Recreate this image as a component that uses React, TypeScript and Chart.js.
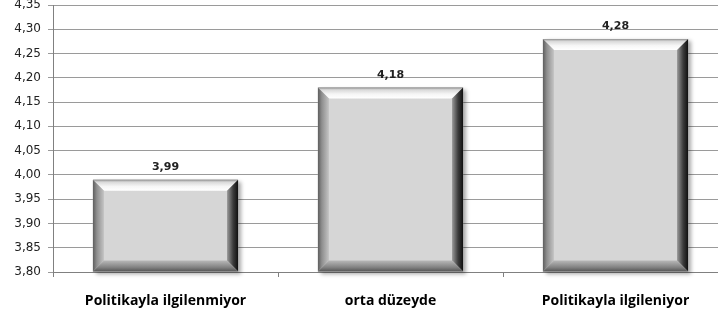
import React, { useEffect, useRef } from "react";
import { Chart, registerables } from "chart.js";

Chart.register(...registerables);

const categories = ["Politikayla ilgilenmiyor", "orta düzeyde", "Politikayla ilgileniyor"];
const values = [3.99, 4.18, 4.28];
const yMin = 3.8;
const yMax = 4.35;
const yStep = 0.05;

const fmt = (v: number) => v.toFixed(2).replace(".", ",");

const bevelPlugin = {
  id: "bevel",
  beforeDatasetsDraw(chart: any) {
    const ctx = chart.ctx;
    const meta = chart.getDatasetMeta(0);
    ctx.save();
    meta.data.forEach((bar: any) => {
      const { x, y, base, width } = bar.getProps(["x", "y", "base", "width"], true);
      const l = x - width / 2;
      ctx.shadowColor = "rgba(0,0,0,0.35)";
      ctx.shadowBlur = 4;
      ctx.shadowOffsetX = 3;
      ctx.shadowOffsetY = 2;
      ctx.fillStyle = "#888";
      ctx.fillRect(l, y, width, base - y);
    });
    ctx.restore();
  },
  afterDatasetsDraw(chart: any) {
    const ctx = chart.ctx;
    const meta = chart.getDatasetMeta(0);
    const b = 11;
    ctx.save();
    meta.data.forEach((bar: any, idx: number) => {
      const { x, y, base, width } = bar.getProps(["x", "y", "base", "width"], true);
      const l = x - width / 2;
      const r = x + width / 2;
      const t = y;
      const bt = base;
      ctx.fillStyle = "#d6d6d6";
      ctx.fillRect(l, t, width, bt - t);
      // top
      let g = ctx.createLinearGradient(0, t, 0, t + b);
      g.addColorStop(0, "#8e8e8e");
      g.addColorStop(0.2, "#d8d8d8");
      g.addColorStop(0.6, "#f6f6f6");
      g.addColorStop(1, "#ffffff");
      ctx.fillStyle = g;
      ctx.beginPath();
      ctx.moveTo(l, t); ctx.lineTo(r, t); ctx.lineTo(r - b, t + b); ctx.lineTo(l + b, t + b); ctx.closePath();
      ctx.fill();
      // left
      g = ctx.createLinearGradient(l, 0, l + b, 0);
      g.addColorStop(0, "#5e5e5e");
      g.addColorStop(0.35, "#8e8e8e");
      g.addColorStop(1, "#c4c4c4");
      ctx.fillStyle = g;
      ctx.beginPath();
      ctx.moveTo(l, t); ctx.lineTo(l + b, t + b); ctx.lineTo(l + b, bt - b); ctx.lineTo(l, bt); ctx.closePath();
      ctx.fill();
      // right
      g = ctx.createLinearGradient(r, 0, r - b, 0);
      g.addColorStop(0, "#101010");
      g.addColorStop(0.45, "#3c3c3c");
      g.addColorStop(1, "#9a9a9a");
      ctx.fillStyle = g;
      ctx.beginPath();
      ctx.moveTo(r, t); ctx.lineTo(r, bt); ctx.lineTo(r - b, bt - b); ctx.lineTo(r - b, t + b); ctx.closePath();
      ctx.fill();
      // bottom
      g = ctx.createLinearGradient(0, bt, 0, bt - b);
      g.addColorStop(0, "#555555");
      g.addColorStop(0.4, "#848484");
      g.addColorStop(1, "#b8b8b8");
      ctx.fillStyle = g;
      ctx.beginPath();
      ctx.moveTo(l, bt); ctx.lineTo(r, bt); ctx.lineTo(r - b, bt - b); ctx.lineTo(l + b, bt - b); ctx.closePath();
      ctx.fill();
      // value label
      ctx.fillStyle = "#222";
      ctx.font = "bold 11px 'DejaVu Sans'";
      ctx.textAlign = "center";
      ctx.textBaseline = "bottom";
      ctx.fillText(fmt(values[idx]), x, t - 7);
    });
    ctx.restore();
  },
};

export default function App() {
  const ref = useRef<HTMLCanvasElement>(null);
  useEffect(() => {
    if (!ref.current) return;
    const chart = new Chart(ref.current, {
      type: "bar",
      data: {
        labels: categories,
        datasets: [
          {
            data: values,
            base: yMin,
            backgroundColor: "#d6d6d6",
            borderWidth: 0,
            categoryPercentage: 1,
            barPercentage: 0.645,
          } as any,
        ],
      },
      options: {
        responsive: false,
        animation: false,
        devicePixelRatio: 1,
        layout: { padding: { top: 5, right: 4, left: 0, bottom: 0 } },
        plugins: { legend: { display: false }, tooltip: { enabled: false } },
        scales: {
          x: {
            grid: { offset: true, drawOnChartArea: false, color: "#808080", tickLength: 5 },
            border: { color: "#808080" },
            ticks: {
              color: "#000",
              font: { family: "'Open Sans'", size: 14, weight: "bold" },
              padding: 16,
            },
            afterFit: (s: any) => { s.height = 51; s.paddingLeft = 0; s.paddingRight = 0; },
          },
          y: {
            min: yMin,
            max: yMax,
            grid: { color: "#9a9a9a", tickLength: 5 },
            border: { color: "#808080" },
            ticks: {
              stepSize: yStep,
              color: "#222",
              font: { family: "'DejaVu Sans'", size: 12 },
              padding: 7,
              callback: (v: any) => fmt(Number(v)),
            },
            afterFit: (s: any) => { s.width = 53; s.paddingTop = 0; s.paddingBottom = 0; },
          },
        },
      },
      plugins: [bevelPlugin],
    });
    return () => chart.destroy();
  }, []);
  return (
    <div style={{ position: "fixed", left: 0, top: 0, width: 718, height: 323, overflow: "hidden", background: "#fff" }}>
      <canvas ref={ref} width={732} height={323} style={{ display: "block" }} />
    </div>
  );
}
